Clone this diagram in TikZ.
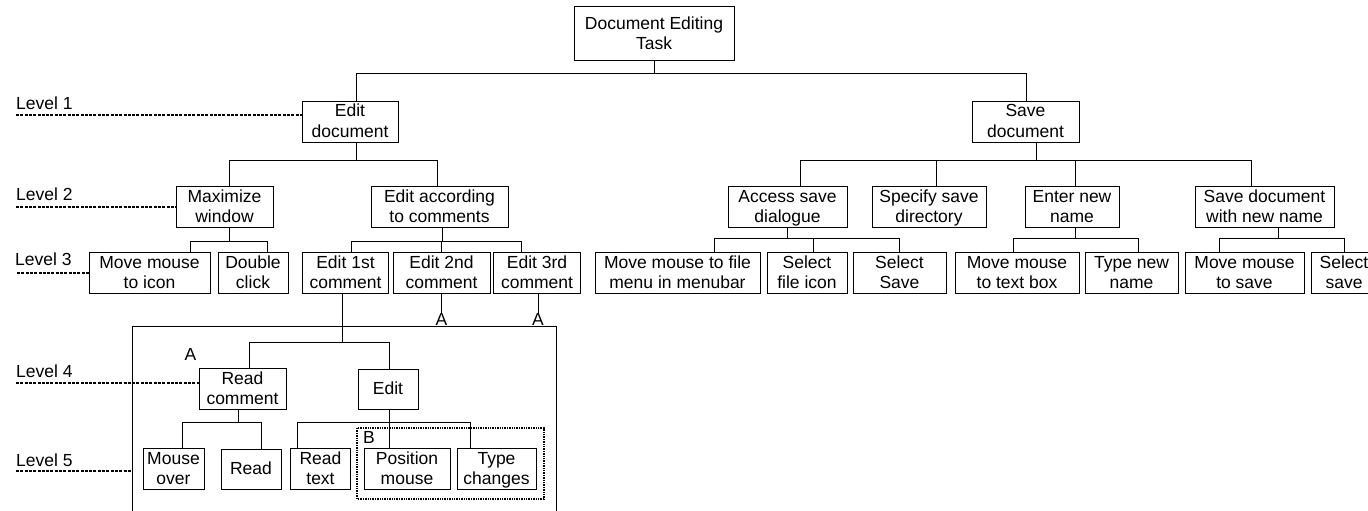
\documentclass[tikz,border=0pt]{standalone}
\usepackage{fontspec}
\setmainfont{Liberation Sans}
\usetikzlibrary{calc}
\newcommand\mys{\rule[-5pt]{0pt}{20.5pt}}
\tikzset{
  box/.style={draw, line width=1pt, inner sep=0pt, align=center, minimum height=40, font=\fontsize{17.5}{20.5}\selectfont},
  conn/.style={line width=1pt},
  lvl/.style={line width=1.9pt, dash pattern=on 3pt off 1.3pt},
  lbl/.style={inner sep=0pt, anchor=base west, font=\fontsize{17.5}{20.5}\selectfont},
}
\begin{document}
\begin{tikzpicture}[x=1pt,y=-1pt]
\useasboundingbox (0,0) rectangle (1368,511);
% level 0 and 1
\node[box, minimum width=160, minimum height=54] (root) at (654,34) {\mys Document Editing\\\mys Task};
\node[box, minimum width=96, minimum height=41] (ed) at (350,121.5) {\mys Edit\\\mys document};
\node[box, minimum width=107, minimum height=41] (sd) at (1025.5,121.5) {\mys Save\\\mys document};
% level 2
\node[box, minimum width=97] (mw) at (224.5,207) {\mys Maximize\\\mys window};
\node[box, minimum width=137] (ea) at (439.5,207) {\mys Edit according\\\mys to comments};
\node[box, minimum width=119] (as) at (787.5,207) {\mys Access save\\\mys dialogue};
\node[box, minimum width=114] (sp) at (929,207) {\mys Specify save\\\mys directory};
\node[box, minimum width=94] (en) at (1072,207) {\mys Enter new\\\mys name};
\node[box, minimum width=139] (sn) at (1264.5,207) {\mys Save document\\\mys with new name};
% level 3
\node[box, minimum width=121] (mi) at (149.5,273) {\mys Move mouse\\\mys to icon};
\node[box, minimum width=70] (dc) at (253,273) {\mys Double\\\mys click};
\node[box, minimum width=86.5] (e1) at (345.5,273) {\mys Edit 1st\\\mys comment};
\node[box, minimum width=97] (e2) at (441.5,273) {\mys Edit 2nd\\\mys comment};
\node[box, minimum width=87] (e3) at (537,273) {\mys Edit 3rd\\\mys comment};
\node[box, minimum width=165] (mf) at (677.5,273) {\mys Move mouse to file\\\mys menu in menubar};
\node[box, minimum width=80] (sf) at (807,273) {\mys Select\\\mys file icon};
\node[box, minimum width=93] (ss) at (899.5,273) {\mys Select\\\mys Save};
\node[box, minimum width=124] (mt) at (1017,273) {\mys Move mouse\\\mys to text box};
\node[box, minimum width=93] (tn) at (1131.5,273) {\mys Type new\\\mys name};
\node[box, minimum width=119] (ms) at (1244.5,273) {\mys Move mouse\\\mys to save};
\node[box, minimum width=66] (sl) at (1344,273) {\mys Select\\\mys save};
% level 4 and 5 (inside enclosure)
\node[box, minimum width=87] (rc) at (242.5,389) {\mys Read\\\mys comment};
\node[box, minimum width=60] (edit) at (388,389) {\mys Edit};
\node[box, minimum width=61] (mo) at (173.5,469) {\mys Mouse\\\mys over};
\node[box, minimum width=60] (rd) at (251,469) {\mys Read};
\node[box, minimum width=59.5] (rt) at (320.5,469) {\mys Read\\\mys text};
\node[box, minimum width=86] (pm) at (407,469) {\mys Position\\\mys mouse};
\node[box, minimum width=79] (tc) at (496.5,469) {\mys Type\\\mys changes};

% connectors level 0 -> 1
\coordinate (b0) at (0,74);
\draw[conn] (root.south) -- (root.south |- b0);
\draw[conn] ([xshift=6]ed.north) |- ([xshift=0.5]sd.north |- b0) -- ([xshift=0.5]sd.north);
% level 1 -> 2
\coordinate (b1) at (0,160);
\draw[conn] ([xshift=6]ed.south) -- ([xshift=6]ed.south |- b1);
\draw[conn] ([xshift=5]mw.north) |- ([xshift=-2]ea.north |- b1) -- ([xshift=-2]ea.north);
\draw[conn] ([xshift=10.5]sd.south) -- ([xshift=10.5]sd.south |- b1);
\draw[conn] ([xshift=12.5]as.north) |- ([xshift=-13.5]sn.north |- b1) -- ([xshift=-13.5]sn.north);
\draw[conn] ([xshift=7]sp.north) -- ([xshift=7]sp.north |- b1);
\draw[conn] ([xshift=3]en.north) -- ([xshift=3]en.north |- b1);
% level 2 -> 3 (left)
\coordinate (b2) at (0,241);
\draw[conn] ([xshift=5]mw.south) -- ([xshift=5]mw.south |- b2);
\draw[conn] ([xshift=40.5]mi.north) |- ([xshift=14]dc.north |- b2) -- ([xshift=14]dc.north);
\draw[conn] ([xshift=2.5]ea.south) -- ([xshift=2.5]ea.south |- b2);
\draw[conn] ([xshift=5.5]e1.north) |- ([xshift=-16]e3.north |- b2) -- ([xshift=-16]e3.north);
\draw[conn] (e2.north) -- (e2.north |- b2);
% level 2 -> 3 (right)
\coordinate (b3) at (0,238);
\draw[conn] (as.south) -- (as.south |- b3);
\draw[conn] ([xshift=36.5]mf.north) |- (ss.north |- b3) -- (ss.north);
\draw[conn] ([xshift=6]sf.north) -- ([xshift=6]sf.north |- b3);
\draw[conn] ([xshift=3]en.south) -- ([xshift=3]en.south |- b3);
\draw[conn] ([xshift=-4]mt.north) |- ([xshift=6.5]tn.north |- b3) -- ([xshift=6.5]tn.north);
\draw[conn] ([xshift=13.5]sn.south) -- ([xshift=13.5]sn.south |- b3);
\draw[conn] ([xshift=-25.5]ms.north) |- (sl.north |- b3) -- (sl.north);

% enclosure
\coordinate (encl) at (132,326);
\draw[conn] (132,520) -- (encl) -- (556,326) -- (556,520);
\node[lbl, anchor=base] (a2) at (441.5,325) {A};
\node[lbl, anchor=base] (a3) at (538,325) {A};
\draw[conn] (e2.south) -- (a2.north);
\draw[conn] ([xshift=1]e3.south) -- (a3.north);
\node[lbl, anchor=base] (al) at (190.5,360) {A};
\node[lbl] (bl) at (363,443) {B};

% level 3 -> 4
\coordinate (b4) at (0,342);
\draw[conn] ([xshift=-3.5]e1.south) -- ([xshift=-3.5]e1.south |- b4);
\draw[conn] ([xshift=6.5]rc.north) |- ([xshift=1]edit.north |- b4) -- ([xshift=1]edit.north);
% level 4 -> 5
\coordinate (b5) at (0,422);
\draw[conn] ([xshift=-4.5]rc.south) -- ([xshift=-4.5]rc.south |- b5);
\draw[conn] ([xshift=8.5]mo.north) |- ([xshift=10]rd.north |- b5) -- ([xshift=10]rd.north);
\draw[conn] ([xshift=1]edit.south) -- ([xshift=-18]pm.north);
\draw[conn] ([xshift=-23.5]rt.north) |- ([xshift=-26.5]tc.north |- b5) -- ([xshift=-26.5]tc.north);
% dotted group B
\draw[line width=1.4pt, densely dotted] (357,428) rectangle (544,499);

% level labels
\node[lbl] (lv1) at (16,109) {Level 1};
\node[lbl] (lv2) at (16,200) {Level 2};
\node[lbl] (lv3) at (15,265) {Level 3};
\node[lbl] (lv4) at (16,377) {Level 4};
\node[lbl] (lv5) at (16,466) {Level 5};
\coordinate (d1) at (16,115);
\coordinate (d2) at (16,207);
\coordinate (d3) at (17,273);
\coordinate (d4) at (16,383);
\coordinate (d5) at (16,471);
\draw[lvl] (d1) -- (d1 -| ed.west);
\draw[lvl] (d2) -- (d2 -| mw.west);
\draw[lvl] (d3) -- (d3 -| mi.west);
\draw[lvl] (d4) -- (d4 -| rc.west);
\draw[lvl] (d5) -- (d5 -| encl);
\end{tikzpicture}
\end{document}
